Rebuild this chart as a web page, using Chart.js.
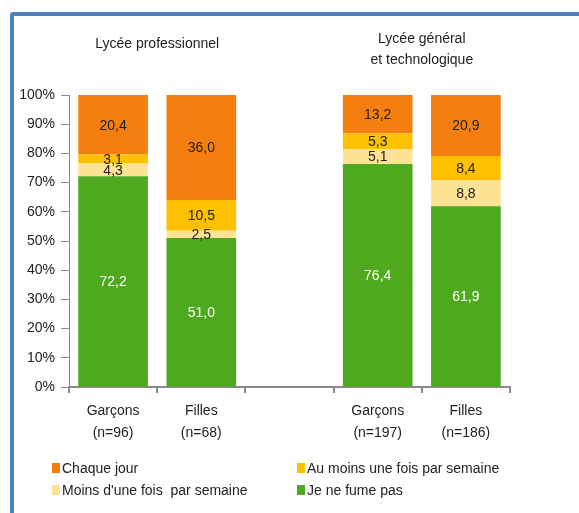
<!DOCTYPE html>
<html>
<head>
<meta charset="utf-8">
<script src="https://cdn.jsdelivr.net/npm/chart.js@4/dist/chart.umd.min.js"></script>
<style>
  body { margin: 0; background: #fff; }
  #wrap { position: relative; width: 579px; height: 513px; overflow: hidden; font-family: "Liberation Sans Narrow", "Liberation Sans", Arial, sans-serif; }
  #frame { position: absolute; left: 10px; top: 12px; width: 600px; height: 540px; border: 4px solid #4f81bd; border-radius: 3px; box-sizing: border-box; }
  #chartBox { position: absolute; left: 0; top: 0; width: 579px; height: 513px; }
  .legend { position: absolute; font-size: 14px; color: #222; display: flex; align-items: center; white-space: nowrap; }
  .legend span.box { display: inline-block; width: 8px; height: 10px; margin-right: 2px; }
</style>
</head>
<body>
<div id="wrap">
  <div id="frame"></div>
  <div id="chartBox"><canvas id="smokeChart" width="579" height="513"></canvas></div>
  <div class="legend" style="left:52px; top:460px;"><span class="box" style="background:#f47f10"></span>Chaque jour</div>
  <div class="legend" style="left:297px; top:460px;"><span class="box" style="background:#ffc000"></span>Au moins une fois par semaine</div>
  <div class="legend" style="left:52px; top:482px;"><span class="box" style="background:#ffe395"></span>Moins d'une fois&nbsp; par semaine</div>
  <div class="legend" style="left:297px; top:482px;"><span class="box" style="background:#4ea91e"></span>Je ne fume pas</div>
</div>
<script>
const categories = [['Garçons', '(n=96)'], ['Filles', '(n=68)'], '', ['Garçons', '(n=197)'], ['Filles', '(n=186)']];
const groupTitles = [['Lycée professionnel'], ['Lycée général', 'et technologique']];
const jeNeFumePas = [72.2, 51.0, null, 76.4, 61.9];
const moinsUneFois = [4.3, 2.5, null, 5.1, 8.8];
const auMoinsUneFois = [3.1, 10.5, null, 5.3, 8.4];
const chaqueJour = [20.4, 36.0, null, 13.2, 20.9];
const yTicks = [0, 10, 20, 30, 40, 50, 60, 70, 80, 90, 100];

const FONT = '"Liberation Sans Narrow", "Liberation Sans", Arial, sans-serif';

// values written in the middle of each segment
const segmentLabels = {
    id: 'segmentLabels',
    afterDatasetsDraw(chart) {
        const ctx = chart.ctx;
        ctx.save();
        ctx.font = '14px ' + FONT;
        ctx.textAlign = 'center';
        ctx.textBaseline = 'middle';
        chart.data.datasets.forEach(function(ds, i) {
            chart.getDatasetMeta(i).data.forEach(function(bar, j) {
                const v = ds.data[j];
                if (v === null) return;
                const mid = (bar.y + bar.base) / 2;
                ctx.fillStyle = ds.labelColor;
                ctx.fillText(v.toFixed(1).replace('.', ','), bar.x, mid + 1);
            });
        });
        ctx.restore();
    }
};

// group headings above each pair of bars
const groupHeadings = {
    id: 'groupHeadings',
    afterDraw(chart) {
        const ctx = chart.ctx;
        const x = chart.scales.x;
        ctx.save();
        ctx.font = '14px ' + FONT;
        ctx.fillStyle = '#222';
        ctx.textAlign = 'center';
        ctx.textBaseline = 'middle';
        const c1 = (x.getPixelForValue(0) + x.getPixelForValue(1)) / 2;
        const c2 = (x.getPixelForValue(3) + x.getPixelForValue(4)) / 2;
        ctx.fillText(groupTitles[0][0], c1, 44);
        ctx.fillText(groupTitles[1][0], c2, 39);
        ctx.fillText(groupTitles[1][1], c2, 60);
        ctx.restore();
    }
};

const canvas = document.getElementById('smokeChart');
const ctx = canvas.getContext('2d');

new Chart(ctx, {
    type: 'bar',
    data: {
        labels: categories,
        datasets: [
            { label: 'Je ne fume pas', data: jeNeFumePas, backgroundColor: '#4ea91e', labelColor: '#ffffff' },
            { label: "Moins d'une fois par semaine", data: moinsUneFois, backgroundColor: '#ffe395', labelColor: '#222' },
            { label: 'Au moins une fois par semaine', data: auMoinsUneFois, backgroundColor: '#ffc000', labelColor: '#222' },
            { label: 'Chaque jour', data: chaqueJour, backgroundColor: '#f47f10', labelColor: '#222' }
        ]
    },
    options: {
        responsive: false,
        animation: false,
        barPercentage: 0.79,
        categoryPercentage: 1.0,
        layout: { padding: { left: 0, top: 95, right: 69, bottom: 66 } },
        plugins: {
            legend: { display: false },
            tooltip: { enabled: false }
        },
        scales: {
            y: {
                stacked: true,
                min: 0,
                max: 100,
                afterFit: function(scale) { scale.width = 69; },
                afterBuildTicks: function(scale) {
                    scale.ticks = yTicks.map(function(v) { return { value: v }; });
                },
                ticks: {
                    callback: function(value) { return value + '%'; },
                    color: '#222',
                    font: { size: 14, family: FONT },
                    padding: 6
                },
                grid: { drawOnChartArea: false, drawTicks: true, tickLength: 8, color: '#8a8a8a' },
                border: { color: '#8a8a8a', width: 1 }
            },
            x: {
                stacked: true,
                afterFit: function(scale) { scale.height = 60; },
                ticks: {
                    color: '#222',
                    font: { size: 14, family: FONT, lineHeight: 1.6 },
                    padding: 7,
                    maxRotation: 0
                },
                grid: { offset: true, drawOnChartArea: false, drawTicks: true, tickLength: 6, color: '#8a8a8a', lineWidth: 2 },
                border: { color: '#8a8a8a', width: 2 }
            }
        }
    },
    plugins: [segmentLabels, groupHeadings]
});
</script>
</body>
</html>
